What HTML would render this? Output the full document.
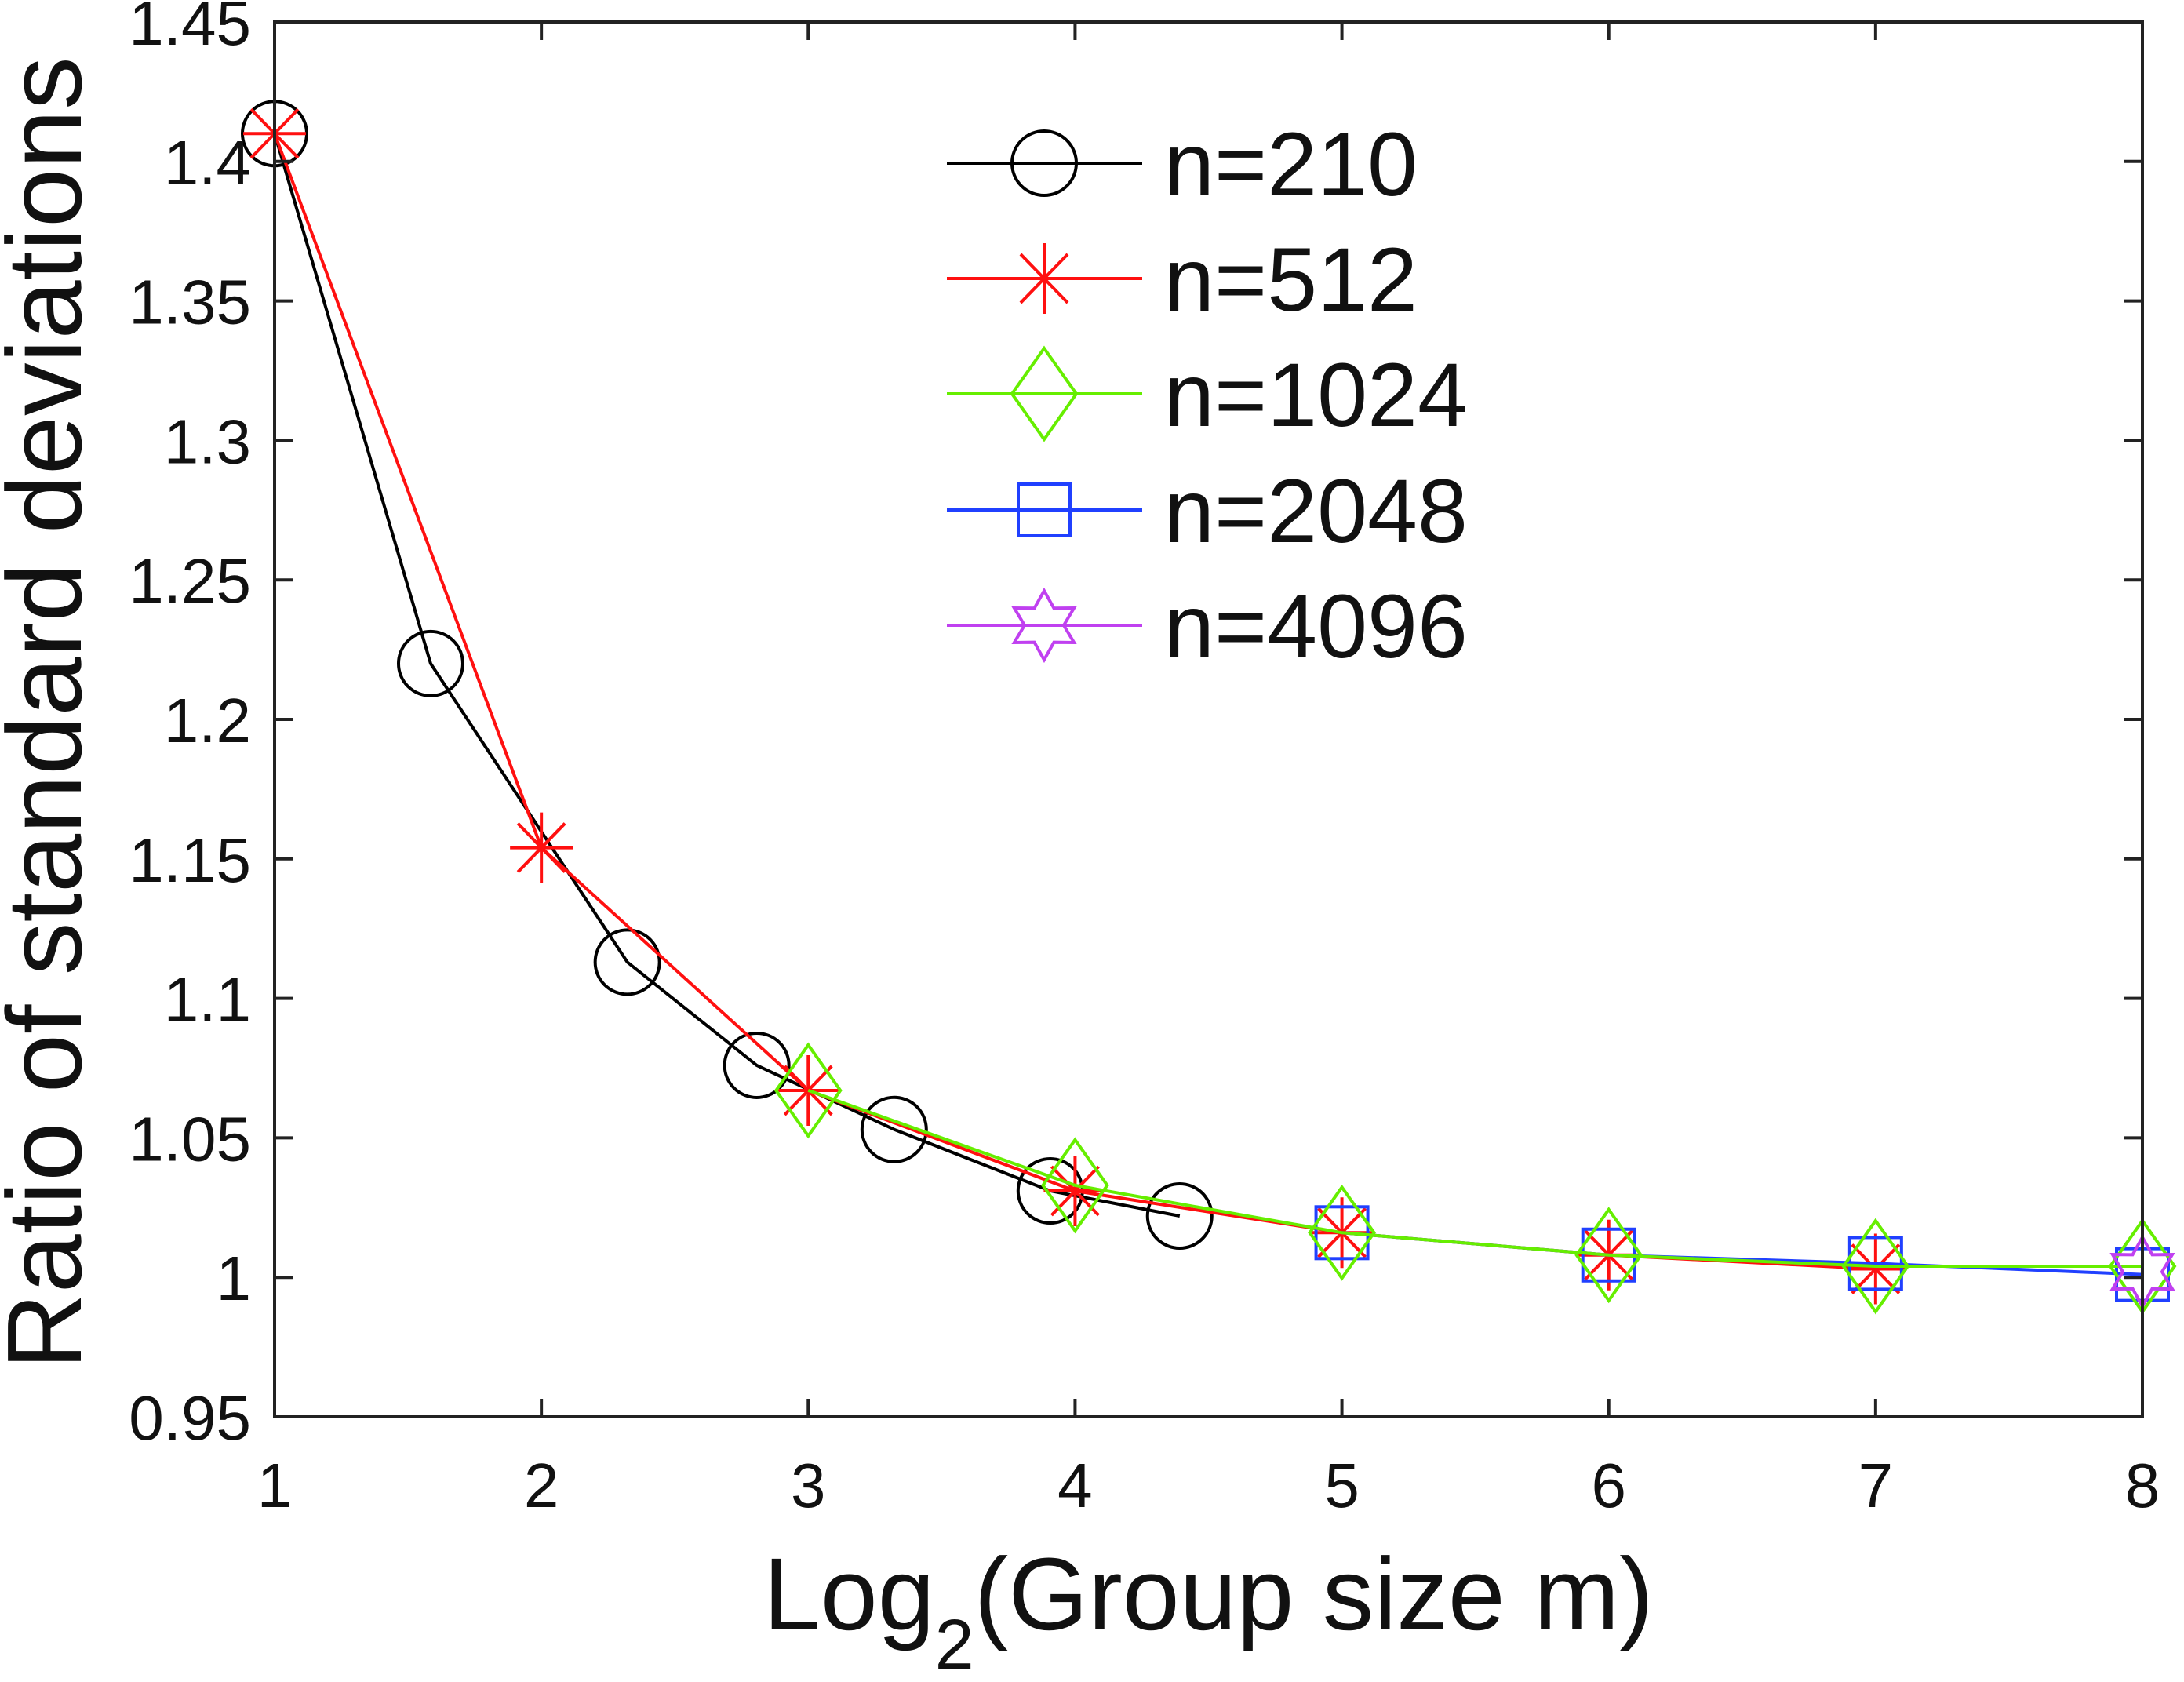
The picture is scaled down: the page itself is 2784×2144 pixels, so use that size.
<!DOCTYPE html>
<html><head><meta charset="utf-8"><style>
html,body{margin:0;padding:0;background:#fff;}
svg{display:block;font-family:"Liberation Sans",Arial,sans-serif;}
</style></head><body>
<svg id="chart" width="2784" height="2144" viewBox="0 0 2784 2144" xmlns="http://www.w3.org/2000/svg">
<rect x="0" y="0" width="2784" height="2144" fill="#fff"/>
<g id="series"></g>
<g id="axes"></g>
<g id="legend"></g>
<text transform="translate(103,909) rotate(-90)" text-anchor="middle" font-size="135" fill="#111">Ratio of standard deviations</text>
<text x="973" y="2077" font-size="131" fill="#111">Log<tspan font-size="90" dy="50">2</tspan><tspan dy="-50">(Group size m)</tspan></text>
</svg>
<script>
const xTicks = [1,2,3,4,5,6,7,8];
const yTicks = [0.95,1,1.05,1.1,1.15,1.2,1.25,1.3,1.35,1.4,1.45];
const yTickLabels = ["0.95","1","1.05","1.1","1.15","1.2","1.25","1.3","1.35","1.4","1.45"];
const names = ["n=210","n=512","n=1024","n=2048","n=4096"];
const x210 = [1,1.585,2.322,2.807,3.322,3.907,4.392];
const y210 = [1.41,1.22,1.113,1.076,1.053,1.031,1.022];
const x512 = [1,2,3,4,5,6,7];
const y512 = [1.41,1.154,1.067,1.031,1.016,1.008,1.003];
const x1024 = [3,4,5,6,7,8];
const y1024 = [1.067,1.033,1.016,1.008,1.004,1.004];
const x2048 = [5,6,7,8];
const y2048 = [1.016,1.008,1.005,1.001];
const x4096 = [8];
const y4096 = [1.002];

const NS="http://www.w3.org/2000/svg";
const L=350,R=2731,T=28,B=1806;
function sx(v){return L+(v-1)/(8-1)*(R-L);}
function sy(v){return B-(v-0.95)/(1.45-0.95)*(B-T);}
function mk(tag,attrs,parent){const e=document.createElementNS(NS,tag);for(const k in attrs)e.setAttribute(k,attrs[k]);parent.appendChild(e);return e;}
const axes=document.getElementById('axes'),ser=document.getElementById('series'),leg=document.getElementById('legend');

const fr=mk('rect',{x:L,y:T,width:R-L,height:B-T,fill:'none',stroke:'#222',"stroke-width":4},axes);


xTicks.forEach(v=>{
  const t1=mk('line',{x1:sx(v),x2:sx(v),y1:B,y2:B-23,stroke:'#222',"stroke-width":4},axes);
  
  
  const t2=mk('line',{x1:sx(v),x2:sx(v),y1:T,y2:T+23,stroke:'#222',"stroke-width":4},axes);
  
  
  const lb=mk('text',{x:sx(v),y:1921,"text-anchor":"middle","font-size":80,fill:'#111'},axes);
  lb.textContent=String(v);
  
  
});
yTicks.forEach((v,i)=>{
  const t1=mk('line',{x1:L,x2:L+23,y1:sy(v),y2:sy(v),stroke:'#222',"stroke-width":4},axes);
  
  
  const t2=mk('line',{x1:R,x2:R-23,y1:sy(v),y2:sy(v),stroke:'#222',"stroke-width":4},axes);
  
  
  const lb=mk('text',{x:320,y:sy(v)+29,"text-anchor":"end","font-size":80,fill:'#111'},axes);
  lb.textContent=yTickLabels[i];
  
  
});

function marker(type,cx,cy,color,g){
  let e;
  if(type==='circle'){e=mk('circle',{cx:cx,cy:cy,r:41,fill:'none',stroke:color,"stroke-width":4},g);}
  else if(type==='star'){
    e=mk('path',{d:`M${cx-40} ${cy}H${cx+40}M${cx} ${cy-45}V${cy+45}M${cx-30} ${cy-31}L${cx+30} ${cy+31}M${cx-30} ${cy+31}L${cx+30} ${cy-31}`,fill:'none',stroke:color,"stroke-width":4},g);}
  else if(type==='diamond'){
    e=mk('path',{d:`M${cx} ${cy-58}L${cx+41} ${cy}L${cx} ${cy+58}L${cx-41} ${cy}Z`,fill:'none',stroke:color,"stroke-width":4},g);}
  else if(type==='square'){
    e=mk('rect',{x:cx-33,y:cy-33,width:66,height:66,fill:'none',stroke:color,"stroke-width":4},g);}
  else {
    const pts=[];for(let k=0;k<12;k++){const a=-Math.PI/2+k*Math.PI/6;const r=k%2===0?44:25;pts.push((cx+r*Math.cos(a)).toFixed(1)+','+(cy+r*Math.sin(a)).toFixed(1));}
    e=mk('polygon',{points:pts.join(' '),fill:'none',stroke:color,"stroke-width":4},g);}
  return e;
}

const seriesDefs=[
  {xs:x210,ys:y210,c:'#000',m:'circle',n:'series-n210'},
  {xs:x512,ys:y512,c:'#ff1010',m:'star',n:'series-n512'},
  {xs:x2048,ys:y2048,c:'#2040ff',m:'square',n:'series-n2048'},
  {xs:x1024,ys:y1024,c:'#66ee00',m:'diamond',n:'series-n1024'},
  {xs:x4096,ys:y4096,c:'#c040f0',m:'hexagram',n:'series-n4096'}
];
seriesDefs.forEach(s=>{
  const g=mk('g',{},ser);
  
  
  const d=s.xs.map((x,i)=>(i?'L':'M')+sx(x).toFixed(1)+' '+sy(s.ys[i]).toFixed(1)).join('');
  const ln=mk('path',{d:d,fill:'none',stroke:s.c,"stroke-width":4},g);
  
  
  s.xs.forEach((x,i)=>{
    const m=marker(s.m,sx(x),sy(s.ys[i]),s.c,g);
    
    
  });
});

const legOrder=[['#000','circle'],['#ff1010','star'],['#66ee00','diamond'],['#2040ff','square'],['#c040f0','hexagram']];
const rowsY=[208,355,502,650,797];
legOrder.forEach((o,i)=>{
  const g=mk('g',{},leg);
  
  
  mk('line',{x1:1207,x2:1456,y1:rowsY[i],y2:rowsY[i],stroke:o[0],"stroke-width":4},g);
  marker(o[1],1331,rowsY[i],o[0],g);
  const t=mk('text',{x:1484,y:rowsY[i]+41,"font-size":115,fill:'#111'},g);
  t.textContent=names[i];
  
  
});
</script>
</body></html>
